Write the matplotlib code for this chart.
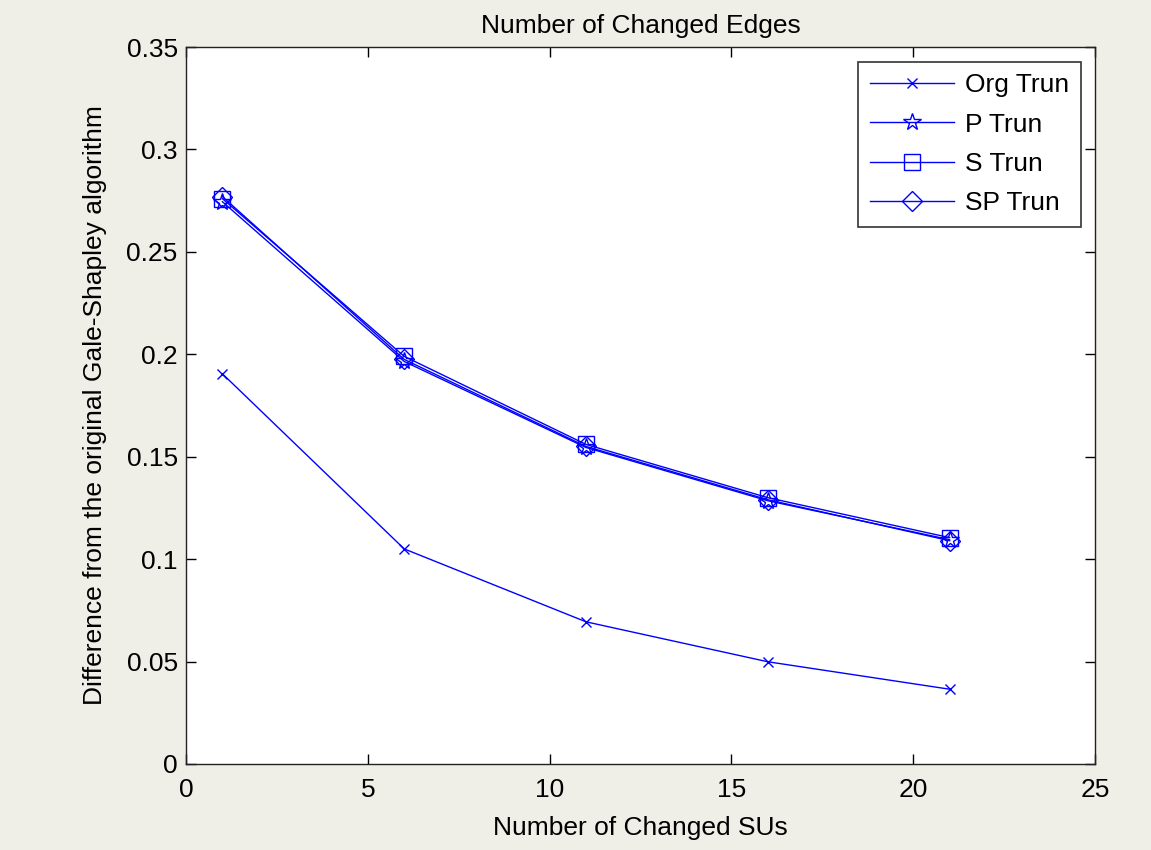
import matplotlib
matplotlib.use("Agg")
import matplotlib.pyplot as plt

plt.rcParams["font.family"] = ["Liberation Sans", "DejaVu Sans"]

su_changed = [1, 6, 11, 16, 21]
org_trun = [0.1905, 0.1050, 0.0694, 0.0499, 0.0365]
p_trun = [0.2745, 0.1965, 0.1545, 0.1285, 0.1095]
s_trun = [0.2760, 0.1990, 0.1560, 0.1300, 0.1105]
sp_trun = [0.2770, 0.1975, 0.1550, 0.1290, 0.1090]

xticks = [0, 5, 10, 15, 20, 25]
yticks = [0, 0.05, 0.1, 0.15, 0.2, 0.25, 0.3, 0.35]
ytick_labels = ["0", "0.05", "0.1", "0.15", "0.2", "0.25", "0.3", "0.35"]

bg = "#efefe7"
fig = plt.figure(figsize=(11.51, 8.5), dpi=100, facecolor=bg)
ax = fig.add_axes([0.1616, 0.1012, 0.7898, 0.8435])

style = dict(color="#0000ff", linewidth=1.0, markerfacecolor="none",
             markeredgecolor="#0000ff", markeredgewidth=1.0)
ax.plot(su_changed, org_trun, marker="x", markersize=7, label="Org Trun", **style)
ax.plot(su_changed, p_trun, marker="*", markersize=13, label="P Trun", **style)
ax.plot(su_changed, s_trun, marker="s", markersize=11, label="S Trun", **style)
ax.plot(su_changed, sp_trun, marker="D", markersize=10, label="SP Trun", **style)

ax.set_xlim(0, 25)
ax.set_ylim(0, 0.35)
ax.set_xticks(xticks)
ax.set_yticks(yticks)
ax.set_yticklabels(ytick_labels)
ax.tick_params(direction="in", top=True, right=True, length=7, width=1,
               labelsize=19, colors="black")
ax.tick_params(axis="x", pad=10)
ax.tick_params(axis="y", pad=6)
for sp in ax.spines.values():
    sp.set_linewidth(1.0)
    sp.set_color("#222222")

ax.set_title("Number of Changed Edges", fontsize=19, pad=10)
ax.set_xlabel("Number of Changed SUs", fontsize=19, labelpad=10)
ax.set_ylabel("Difference from the original Gale-Shapley algorithm", fontsize=19, labelpad=14)

leg = ax.legend(loc="upper right", fontsize=19, frameon=True, fancybox=False,
                edgecolor="black", handlelength=3.2, borderpad=0.45,
                labelspacing=0.58, handletextpad=0.4, borderaxespad=0.55)
leg.get_frame().set_linewidth(1.2)

fig.savefig("out.png", dpi=100, facecolor=bg)
